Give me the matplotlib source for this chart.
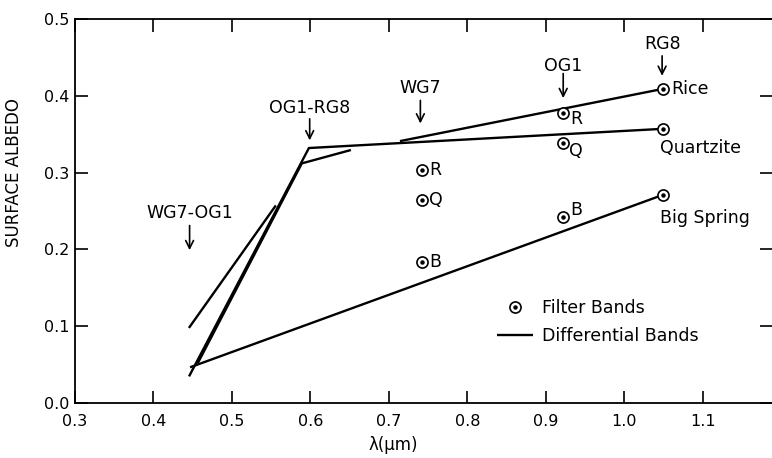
import numpy as np
import matplotlib
matplotlib.use('Agg')
import matplotlib.pyplot as plt
from matplotlib.legend_handler import HandlerTuple

### DATA
band_wl = [0.742, 0.922, 1.049]
rice_filter = [0.304, 0.377, 0.409]
quartz_filter = [0.264, 0.339, 0.357]
bigspring_filter = [0.183, 0.242, 0.271]

rice_diff_x = [0.714, 1.049]
rice_diff_y = [0.341, 0.409]
quartz_diff_x = [0.446, 0.598, 1.049]
quartz_diff_y = [0.036, 0.332, 0.357]
quartz_diff2_x = [0.457, 0.589, 0.650]
quartz_diff2_y = [0.053, 0.312, 0.329]
wg7og1_x = [0.446, 0.555]
wg7og1_y = [0.099, 0.256]
bigspring_diff_x = [0.448, 1.049]
bigspring_diff_y = [0.047, 0.271]

# band labels: text, x, text y, arrow top, arrow tip
band_names = ['WG7-OG1', 'WG7', 'OG1-RG8', 'OG1', 'RG8']
band_x = [0.446, 0.740, 0.599, 0.922, 1.048]
band_text_y = [0.248, 0.410, 0.384, 0.439, 0.468]
band_arrow_top = [0.231, 0.394, 0.370, 0.429, 0.452]
band_arrow_tip = [0.199, 0.364, 0.342, 0.397, 0.426]

xticks = [0.3, 0.4, 0.5, 0.6, 0.7, 0.8, 0.9, 1.0, 1.1]
yticks = [0.0, 0.1, 0.2, 0.3, 0.4, 0.5]

fs = 12.5
lw = 1.7

fig = plt.figure(figsize=(7.72, 4.58), dpi=100)
ax = fig.add_axes([75/772, 55/458, 697/772, 384/458])
ax.set_xlim(0.3, 1.188)
ax.set_ylim(0.0, 0.5)

# differential bands
line, = ax.plot(rice_diff_x, rice_diff_y, 'k-', lw=lw, solid_capstyle='butt')
ax.plot(quartz_diff_x, quartz_diff_y, 'k-', lw=lw)
ax.plot(quartz_diff2_x, quartz_diff2_y, 'k-', lw=lw)
ax.plot(wg7og1_x, wg7og1_y, 'k-', lw=lw)
ax.plot(bigspring_diff_x, bigspring_diff_y, 'k-', lw=lw)

# filter bands (circle with dot)
for vals in [rice_filter, quartz_filter, bigspring_filter]:
    circ, = ax.plot(band_wl, vals, 'o', ms=8, mfc='white', mec='k', mew=1.2, zorder=3)
    dot, = ax.plot(band_wl, vals, 'o', ms=2.2, color='k', zorder=4)

# point letters
letters = [('R', 0, rice_filter[0], 5, 0),
           ('Q', 0, quartz_filter[0], 5, 0),
           ('B', 0, bigspring_filter[0], 5, 0),
           ('R', 1, rice_filter[1], 5, -4),
           ('Q', 1, quartz_filter[1], 4, -6),
           ('B', 1, bigspring_filter[1], 5, 5)]
for txt, i, yv, dx, dy in letters:
    ax.annotate(txt, (band_wl[i], yv), xytext=(dx, dy), textcoords='offset points',
                ha='left', va='center', fontsize=fs)

ax.annotate('Rice', (band_wl[2], rice_filter[2]), xytext=(6, 0), textcoords='offset points',
            ha='left', va='center', fontsize=fs)
ax.annotate('Quartzite', (band_wl[2], quartz_filter[2]), xytext=(27, -14), textcoords='offset points',
            ha='center', va='center', fontsize=fs)
ax.annotate('Big Spring', (band_wl[2], bigspring_filter[2]), xytext=(30, -17), textcoords='offset points',
            ha='center', va='center', fontsize=fs)

for name, bx, ty, at, tip in zip(band_names, band_x, band_text_y, band_arrow_top, band_arrow_tip):
    ax.text(bx, ty, name, ha='center', va='center', fontsize=fs)
    ax.annotate('', xy=(bx, tip), xytext=(bx, at),
                arrowprops=dict(arrowstyle='->', lw=1.2, color='k', shrinkA=0, shrinkB=0,
                                mutation_scale=14))

# legend
leg = ax.legend([(circ, dot), line], ['Filter Bands', 'Differential Bands'],
                handler_map={tuple: HandlerTuple(ndivide=1)},
                loc='upper left', bbox_to_anchor=(0.605, 0.27), frameon=False,
                fontsize=fs, handlelength=2.1, handletextpad=0.5, labelspacing=0.55,
                borderpad=0, borderaxespad=0)

# axes styling
ax.spines['right'].set_visible(False)
for s in ['left', 'bottom', 'top']:
    ax.spines[s].set_linewidth(1.3)
ax.set_xticks(xticks)
ax.set_yticks(yticks)
ax.set_xticklabels(['0.3', '0.4', '0.5', '0.6', '0.7', '0.8', '0.9', '1.0', '1.1'])
ax.set_yticklabels(['0.0', '0.1', '0.2', '0.3', '0.4', '0.5'])
ax.tick_params(axis='both', direction='in', length=9, width=1.2, labelsize=11.5,
               top=True, right=True)
ax.tick_params(axis='x', pad=8)
ax.tick_params(axis='y', pad=4)

ax.set_ylabel('SURFACE ALBEDO', fontsize=12, labelpad=8)
ax.yaxis.set_label_coords(-0.075, 0.6)
ax.set_xlabel('λ(μm)', fontsize=12)
ax.xaxis.set_label_coords((393-75)/697, -0.085)

fig.savefig('out.png', dpi=100)
